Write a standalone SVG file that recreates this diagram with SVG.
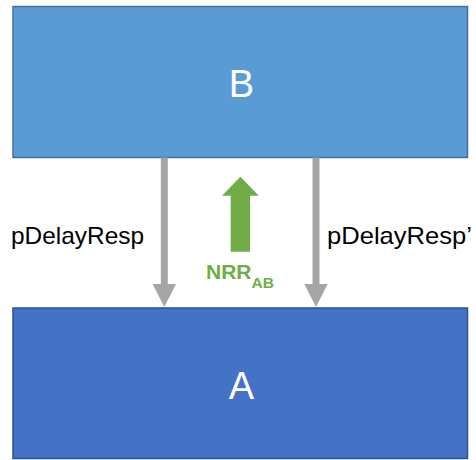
<svg xmlns="http://www.w3.org/2000/svg" width="476" height="460" viewBox="0 0 476 460">
  <style>
    .lbl { font-family: "Liberation Sans", Arial, sans-serif; fill: #000000; font-size: 24px; }
    .node-text { font-family: "Liberation Sans", Arial, sans-serif; fill: #ffffff; font-size: 38px; text-anchor: middle; }
    .nrr { font-family: "Liberation Sans", Arial, sans-serif; fill: #70AD47; font-weight: bold; }
    .gray { fill: #A5A5A5; }
  </style>
  <rect width="476" height="460" fill="#ffffff"/>
  <g id="node-B">
    <rect x="13" y="6.5" width="454.5" height="151" fill="#5B9BD5" stroke="#41719C" stroke-width="1.5"/>
    <text class="node-text" x="241.5" y="96.5">B</text>
  </g>
  <g id="node-A">
    <rect x="13" y="308" width="454.5" height="150.5" fill="#4472C4" stroke="#2F528F" stroke-width="1.5"/>
    <text class="node-text" x="241.5" y="399">A</text>
  </g>
  <g id="connectors">
    <path class="gray" d="M160.8,157.5 H167.8 V284 H176 L164.3,307 L152.6,284 H160.8 Z"/>
    <path class="gray" d="M312.5,157.5 H319.5 V284 H327.7 L316,307 L304.3,284 H312.5 Z"/>
    <path fill="#70AD47" d="M230.7,251.7 V195.7 H222 L240.4,176.7 L258.8,195.7 H250 V251.7 Z"/>
    <text class="lbl" x="11" y="244.3" textLength="133" lengthAdjust="spacingAndGlyphs">pDelayResp</text>
    <text class="lbl" x="327" y="244.3" textLength="145" lengthAdjust="spacingAndGlyphs">pDelayResp’</text>
    <text class="nrr" x="206" y="279" font-size="21">NRR<tspan font-size="15.5" dy="9">AB</tspan></text>
  </g>
</svg>
